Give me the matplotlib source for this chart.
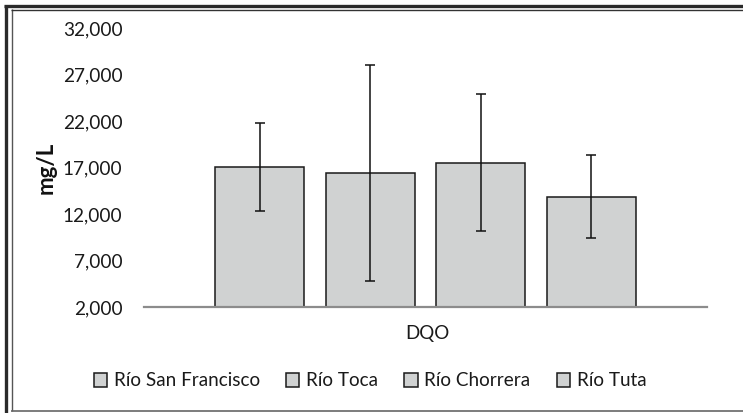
import matplotlib
matplotlib.use("Agg")
import matplotlib.pyplot as plt
from matplotlib.ticker import FuncFormatter
from matplotlib.lines import Line2D

rivers = ["Río San Francisco", "Río Toca", "Río Chorrera", "Río Tuta"]
means = [17050, 16400, 17520, 13880]
errors = [4730, 11570, 7400, 4420]
category = "DQO"
y_ticks = [2000, 7000, 12000, 17000, 22000, 27000, 32000]

plt.rcParams['font.family'] = ['Lato', 'DejaVu Sans']

W, H = 743, 413
fig = plt.figure(figsize=(W / 100, H / 100), dpi=100)
fig.patch.set_facecolor("white")

ax = fig.add_axes([144 / W, 1 - 307 / H, (707 - 144) / W, (307 - 28) / H])

bar_w = 89 / 563
step = 110.5 / 563
n = len(rivers)
for i, (r, m, e) in enumerate(zip(rivers, means, errors)):
    x = (i - (n - 1) / 2) * step
    ax.bar(x, m, width=bar_w, color="#D0D2D2", edgecolor="#1a1a1a",
           linewidth=1.1, label=r, zorder=2)
    ax.errorbar(x, m, yerr=e, fmt="none", ecolor="#111111", elinewidth=1.1,
                capsize=3.3, capthick=1.1, zorder=3)

ax.set_xlim(-0.5, 0.5)
ax.set_ylim(2000, 32000)
ax.set_yticks(y_ticks)
ax.yaxis.set_major_formatter(FuncFormatter(lambda v, p: f"{int(v):,}"))
ax.set_xticks([])
for s in ["top", "right", "left"]:
    ax.spines[s].set_visible(False)
ax.spines["bottom"].set_color("#8c8c8c")
ax.spines["bottom"].set_linewidth(1.6)
ax.spines["bottom"].set_zorder(4)
ax.tick_params(axis="y", length=0, pad=15.5, labelsize=13.7, labelcolor="#1a1a1a")
ax.set_ylabel("mg/L", fontsize=16, fontweight="bold", color="#111111")
ax.yaxis.set_label_coords(-(144 - 46) / 563, 0.5)
ax.yaxis.label.set_va("center")
ax.patch.set_alpha(0)

fig.text(427 / W, 1 - 333 / H, category, ha="center", va="center",
         fontsize=13.5, color="#1a1a1a")

handles, labels = ax.get_legend_handles_labels()
leg = fig.legend(handles, labels, loc="center", ncol=4,
                 bbox_to_anchor=(370 / W, 1 - 381 / H), frameon=False,
                 fontsize=13.6, handlelength=0.7, handleheight=0.7,
                 handletextpad=0.35, columnspacing=1.4, labelcolor="#1a1a1a")

# borders
def fline(xs, ys, color, lw):
    fig.add_artist(Line2D([x / W for x in xs], [1 - y / H for y in ys],
                          transform=fig.transFigure, color=color, linewidth=lw,
                          solid_capstyle="butt"))

fline([5.5, 5.5], [4.8, 413], "#2a2a2a", 2.4)
fline([4, 743], [6, 6], "#2a2a2a", 2.4)
fline([11.5, 11.5], [9, 411], "#555555", 1.0)
fline([11, 743], [9.5, 9.5], "#333333", 1.0)
fline([11, 743], [410.8, 410.8], "#666666", 1.2)

fig.savefig("out.png", dpi=100, facecolor="white")
